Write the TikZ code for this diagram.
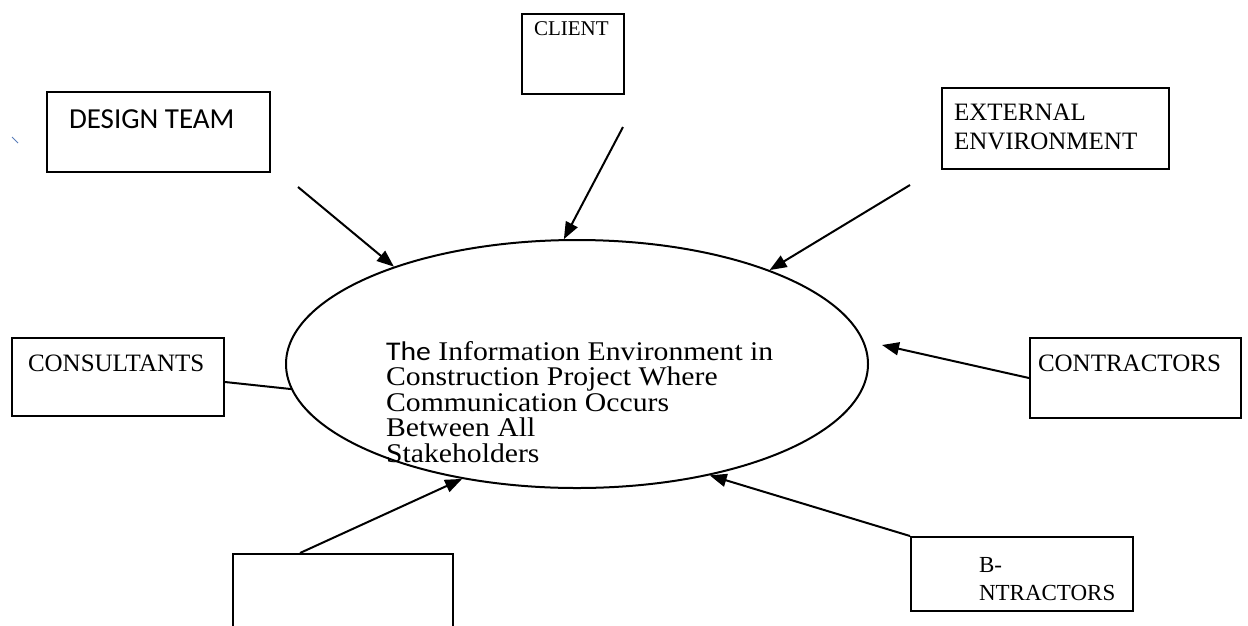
\documentclass[tikz,border=0pt]{standalone}
\usepackage{fontspec}
\setmainfont{Liberation Serif}
\newfontfamily\calibri{Carlito}
\usetikzlibrary{arrows.meta,shapes.geometric}
\definecolor{tickblue}{RGB}{90,125,185}

\begin{document}
\begin{tikzpicture}[x=1pt, y=-1pt, line width=2pt,
	box/.style={draw, rectangle, inner sep=0pt, anchor=north west},
	lbl/.style={anchor=west, inner sep=0pt, align=left, font=\fontsize{25}{29}\selectfont},
	tip/.style={-{Triangle[length=17pt,width=13pt]}}]
	\useasboundingbox (0,0) rectangle (1248,625);
	%\draw[step=50pt, gray!30, line width=0.2pt] (0,0) grid (1248,625);
	\draw[tickblue, line width=1pt] (12,137) -- (18,143);
	% stakeholder boxes
	\node[box, minimum width=102pt, minimum height=80pt] (client) at (521,13) {};
	\node[lbl, font=\fontsize{21}{25}\selectfont] (clientlbl) at (533,29) {CLIENT};
	\node[box, minimum width=223pt, minimum height=80pt] (design) at (46,91) {};
	\node[lbl, font=\calibri\fontsize{29}{32}\selectfont] (designlbl) at (68,119) {DESIGN TEAM};
	\node[box, minimum width=227pt, minimum height=81pt] (extern) at (941,87) {};
	\node[lbl] (externlbl) at (953,127) {EXTERNAL\\ENVIRONMENT};
	\node[box, minimum width=212pt, minimum height=78pt] (consult) at (11,337) {};
	\node[lbl] (consultlbl) at (27,363) {CONSULTANTS};
	\node[box, minimum width=211pt, minimum height=80pt] (contract) at (1029,337) {};
	\node[lbl] (contractlbl) at (1037,363) {CONTRACTORS};
	\node[box, minimum width=220pt, minimum height=90pt] (nobox) at (232,553) {};
	\node[box, minimum width=222pt, minimum height=74pt] (subcon) at (910,536) {};
	\node[lbl, font=\fontsize{23}{28}\selectfont] (subconlbl) at (978,579) {B-\\NTRACTORS};
	% the information environment
	\node[draw, ellipse, minimum width=582pt, minimum height=248pt, inner sep=0pt] (info) at (577,364) {};
	\coordinate (infocorner) at (385,340);
	\node[anchor=north west, inner sep=0pt, align=left, xscale=1.1, transform shape,
		font=\fontsize{27}{25.5}\selectfont] (infolbl) at (infocorner)
		{{\calibri The} Information Environment in\\Construction Project Where\\Communication Occurs\\Between All\\Stakeholders};
	% connectors
	\coordinate (designfoot) at (298,187);
	\coordinate (clientfoot) at (623,127);
	\coordinate (externfoot) at (910,185);
	\coordinate (nofoot) at (300,553);
	\coordinate (contracttip) at (882,345);
	\draw[tip] (designfoot) -- (info.152);
	\draw[tip] (clientfoot) -- (info.96.8);
	\draw[tip] (externfoot) -- (info.26);
	\draw[tip] (contract.west) -- (contracttip);
	\draw[tip] (subcon.north west) -- (info.-40.2);
	\draw[tip] (nofoot) -- (info.-135);
	\draw ([yshift=-5pt]consult.east) -- (info.185.5);
\end{tikzpicture}
\end{document}
